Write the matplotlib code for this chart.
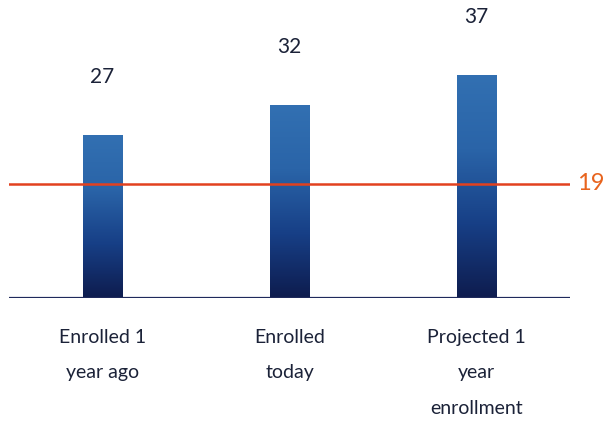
import numpy as np
import matplotlib
matplotlib.use("Agg")
import matplotlib.pyplot as plt
from matplotlib.colors import LinearSegmentedColormap

categories = ["Enrolled 1\nyear ago", "Enrolled\ntoday", "Projected 1\nyear\nenrollment"]
values = [27, 32, 37]
reference_value = 19

plt.rcParams['font.family'] = ['Lato', 'DejaVu Sans']

fig = plt.figure(figsize=(6.04, 4.22), dpi=100)
ax = fig.add_axes([9 / 604, 124 / 422, 561 / 604, 241 / 422])

x = np.arange(len(categories))
bar_w = 0.21
bars = ax.bar(x, values, width=bar_w, color="none", edgecolor="none")

cmap = LinearSegmentedColormap.from_list(
    "barfade", ["#0e1c4e", "#173f86", "#2a64a8", "#3270b2"])
grad = np.linspace(0, 1, 256).reshape(-1, 1)
for b in bars:
    x0, y0 = b.get_x(), b.get_y()
    w, h = b.get_width(), b.get_height()
    im = ax.imshow(grad, cmap=cmap, origin="lower", aspect="auto",
                   extent=[x0, x0 + w, y0, y0 + h], zorder=2)
    im.set_clip_path(b)

ax.axhline(reference_value, color="#e2411f", lw=1.8, zorder=3)
ax.text(2.535, reference_value, str(reference_value), color="#e8641e",
        fontsize=17, va="center", ha="left", transform=ax.transData, clip_on=False)

for xi, v in zip(x, values):
    ax.annotate(str(v), (xi, v), xytext=(0, 42), textcoords="offset points",
                ha="center", va="center", fontsize=15, color="#1b2238")

ax.axhline(0, color="#1f2a5c", lw=1.6, zorder=4)

ax.set_xlim(-0.5, 2.5)
ax.set_ylim(0, 40)
ax.set_xticks(x)
ax.set_xticklabels(categories, fontsize=14, color="#1b2238",
                   linespacing=2.35, va="top")
ax.tick_params(axis="x", length=0, pad=22)
ax.set_yticks([])
for s in ax.spines.values():
    s.set_visible(False)

fig.savefig("out.png", dpi=100)
